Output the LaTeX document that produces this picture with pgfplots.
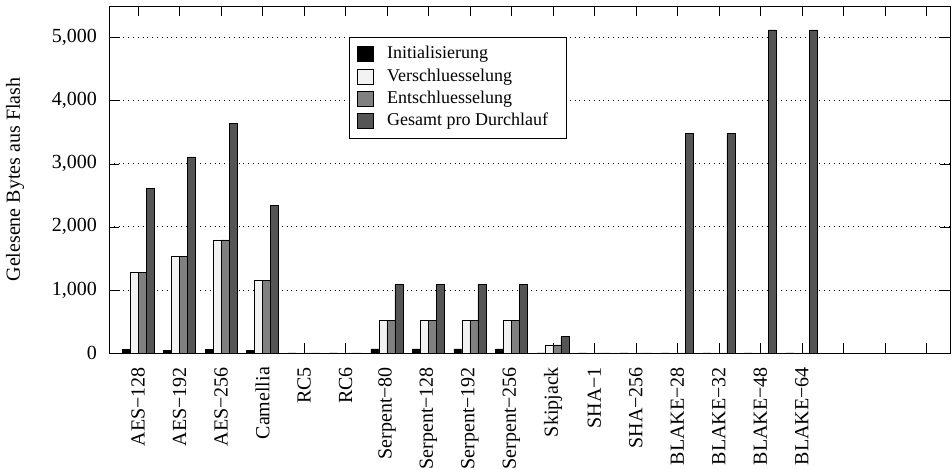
\documentclass[border=0pt]{standalone}
\usepackage{fontspec}
\setmainfont{Liberation Serif}
\usepackage{pgfplots}
\pgfplotsset{compat=1.18}
\usepackage{pgfplotstable}
\definecolor{cInit}{HTML}{000000}
\definecolor{cEnc}{HTML}{F2F2F2}
\definecolor{cDec}{HTML}{808080}
\definecolor{cTot}{HTML}{555555}
\pgfplotstableread{
x init enc dec tot
0 56 1276 1276 2608
1 44 1532 1532 3108
2 56 1792 1792 3640
3 40 1148 1148 2336
4 0 0 0 0
5 0 0 0 0
6 64 512 512 1088
7 64 512 512 1088
8 64 512 512 1088
9 64 512 512 1088
10 0 128 128 256
11 0 0 0 0
12 0 0 0 0
13 0 0 0 3480
14 0 0 0 3480
15 0 0 0 5120
16 0 0 0 5120
}\datatable
\begin{document}
\begin{tikzpicture}
\begin{axis}[
  width=420.5pt, height=173.5pt,
  scale only axis,
  ybar=0pt, bar width=4pt,
  xmin=-0.7, xmax=19.57,
  ymin=0, ymax=5500,
  xtick={0,1,...,19},
  xticklabels={AES−128,AES−192,AES−256,Camellia,RC5,RC6,Serpent−80,Serpent−128,Serpent−192,Serpent−256,Skipjack,SHA−1,SHA−256,BLAKE−28,BLAKE−32,BLAKE−48,BLAKE−64,{},{},{}},
  x tick label style={rotate=90, anchor=east, font=\fontsize{10}{12}\selectfont},
  xticklabel shift=3.5pt,
  ytick={0,1000,2000,3000,4000,5000},
  y tick label style={font=\fontsize{10}{12}\selectfont},
  yticklabel shift=2.5pt,
  /pgf/number format/assume math mode=true,
  /pgf/number format/1000 sep={,},
  scaled y ticks=false,
  ymajorgrids, grid style={dotted, black},
  tick pos=both, tick align=inside,
  major tick length=5pt,
  tick style={black},
  ylabel={Gelesene Bytes aus Flash},
  ylabel style={font=\fontsize{10}{12}\selectfont, at={(axis description cs:-0.1118,0.5)}, anchor=center},
  legend style={at={(0.2854,0.9107)}, anchor=north west, draw=black, fill=white,
    font=\fontsize{9}{10}\selectfont, row sep=-0.6pt, inner xsep=4pt, inner ysep=2.5pt},
  legend cell align=left,
  legend image code/.code={\draw[#1] (0pt,-3.75pt) rectangle (8pt,3.75pt); \path (12.5pt,0pt);},
  every axis plot/.append style={draw=black, line width=0.4pt},
]
\addplot[fill=cInit] table[x=x,y=init]{\datatable};
\addplot[fill=cEnc] table[x=x,y=enc]{\datatable};
\addplot[fill=cDec] table[x=x,y=dec]{\datatable};
\addplot[fill=cTot] table[x=x,y=tot]{\datatable};
\legend{Initialisierung,Verschluesselung,Entschluesselung,Gesamt pro Durchlauf\hspace*{3pt}}
\end{axis}
\pgfresetboundingbox
\useasboundingbox (-54.5pt,-58.5pt) rectangle (421.5pt,176.5pt);
\end{tikzpicture}
\end{document}
